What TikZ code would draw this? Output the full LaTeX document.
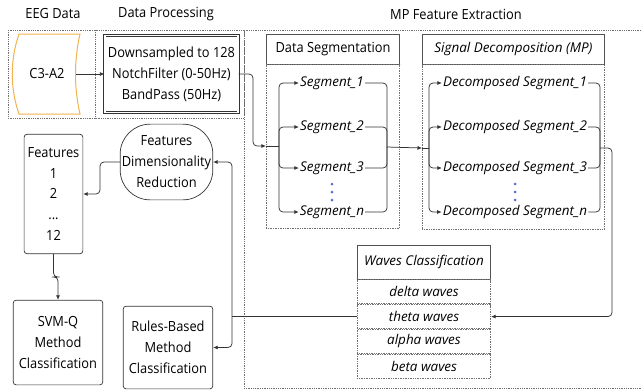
\documentclass[tikz,border=0pt]{standalone}
\usepackage{fontspec}
\setmainfont{Open Sans}[UprightFeatures={FakeStretch=0.92}]
\usepackage{xcolor}
\definecolor{ln}{HTML}{333333}
\definecolor{frm}{HTML}{707070}
\definecolor{eegc}{HTML}{F2B24E}
\definecolor{dotc}{HTML}{5A6AD8}
\usetikzlibrary{arrows.meta,positioning,calc}
\newcommand\fs{\fontsize{14}{21}\selectfont}
\newcommand\fsi{\fontsize{13.5}{21}\selectfont\itshape}
\tikzset{
  >={Latex[length=4.5pt,width=4pt]},
  box/.style={draw=ln,line width=0.7pt,rounded corners=3pt,align=center,fill=white,font=\fs,inner sep=1pt},
  grp/.style={draw=frm,densely dotted,line width=0.8pt},
  hdr/.style={draw=ln!85,line width=0.7pt,fill=white,font=\fs,inner sep=1pt},
  panel/.style={draw=frm,densely dotted,line width=0.7pt},
  rowc/.style={panel,font=\fsi,minimum width=134pt,minimum height=24.25pt,inner sep=0pt},
  ttl/.style={font=\fs},
  seg/.style={font=\fsi,inner sep=1pt},
  arr/.style={->,draw=ln,line width=0.75pt,rounded corners=4pt},
  wire/.style={draw=ln,line width=0.75pt,rounded corners=4pt},
}

\begin{document}
\begin{tikzpicture}[x=1bp,y=-1bp]
\useasboundingbox (0,0) rectangle (641,390);
% group frames
\draw[grp] (8,30) rectangle (244,118);
\draw[grp] (95,30) -- (95,118);
\draw[grp] (641,30) -- (244,30) -- (244,388) -- (641,388);
\node[ttl] (tEEG) at (53,14) {EEG Data};
\node[ttl] (tProc) at (166,14) {Data Processing};
\node[ttl] (tMP) at (456,14) {MP Feature Extraction};

% EEG input
\draw[eegc,line width=1pt,fill=white] (19,34) -- (80,34) .. controls (74,60) and (74,88) .. (80,114)
  -- (19,114) .. controls (10,88) and (10,60) .. (19,34);
\node[font=\fs,minimum width=58pt,minimum height=80pt,inner sep=0pt] (eeg) at (47,74) {C3-A2};

\node[box,rounded corners=0pt,double=white,double distance=1.6pt,minimum width=134pt,minimum height=77pt] (proc) at (171.5,74)
  {Downsampled to 128\\NotchFilter (0-50Hz)\\BandPass (50Hz)};
\draw[arr] (eeg.east) -- (proc.west);

% segmentation
\node[hdr,minimum width=134pt,minimum height=30pt] (segh) at (333,49) {Data Segmentation};
\node[panel,minimum width=134pt,minimum height=164pt,anchor=north] (segb) at (segh.south) {};
\node[hdr,minimum width=183pt,minimum height=30pt] (dech) at (513.5,49) {\fsi Signal Decomposition (MP)};
\node[panel,minimum width=183pt,minimum height=165pt,anchor=north] (decb) at (dech.south) {};

\foreach \i/\y in {1/83,2/127,3/168,n/212} {
  \node[seg] (s\i) at (332,\y) {Segment\_\i};
  \node[seg] (d\i) at (515,\y) {Decomposed Segment\_\i};
}
\foreach \k in {0,1,2} {
  \fill[dotc] (332,184+\k*8) circle (1.5);
  \fill[dotc] (515,184+\k*8) circle (1.5);
}

\coordinate (sj) at (279,146);
\coordinate (sout) at (387,147);
\coordinate (dj) at (429,148);
\coordinate (dout) at (600,148);
\draw[arr] (proc.east) -- (253,74) |- (segb.west |- sj);
\draw[wire] (segb.west |- sj) -- (sj);
\foreach \i in {1,2,3,n} {
  \draw[arr] (sj) |- (s\i.west);
  \draw[wire] (s\i.east) -| (sout);
  \draw[arr] (dj) |- (d\i.west);
  \draw[wire] (d\i.east) -| (dout);
}
\draw[arr] (sout) -- (decb.west |- dj);
\draw[wire] (decb.west |- dj) -- (dj);

% waves table
\node[hdr,minimum width=134pt,minimum height=34pt] (wh) at (424,262) {\fsi Waves Classification};
\node[rowc,below=0pt of wh] (delta) {delta waves};
\node[rowc,below=0pt of delta] (theta) {theta waves};
\node[rowc,below=0pt of theta] (alpha) {alpha waves};
\node[rowc,below=0pt of alpha] (beta) {beta waves};
\draw[arr] (dout) -- (612,148) |- (theta.east);

% classification side
\node[box,rounded corners=30pt,minimum width=93pt,minimum height=76pt] (fdr) at (166.5,162) {Features\\Dimensionality\\Reduction};
\node[box,minimum width=59pt,minimum height=120pt] (feat) at (53.5,194) {Features\\1\\2\\...\\12};
\node[box,minimum width=90pt,minimum height=85pt] (svm) at (58,342.5) {SVM-Q\\Method\\Classification};
\node[box,minimum width=90pt,minimum height=83pt] (rules) at (168,347.5) {Rules-Based\\Method\\Classification};

\coordinate (wj) at (232,0 |- theta.west);
\draw[wire] (theta.west) -- (wj);
\draw[arr] (wj) |- (fdr.east);
\draw[arr] (wj) |- (rules.east);
\draw[arr] (fdr.west) -- (100,162) |- (feat.east);
\draw[arr] (feat.south) |- ($(feat.south)!0.5!(svm.north)$) -| (svm.north);
\end{tikzpicture}
\end{document}
